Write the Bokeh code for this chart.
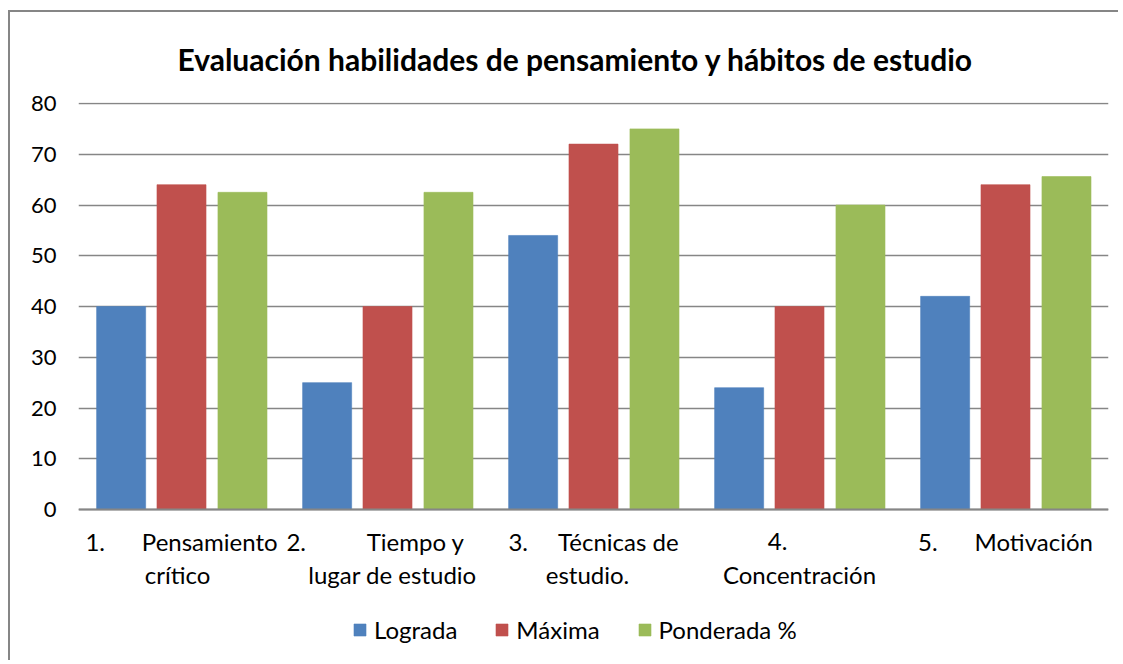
from bokeh.plotting import figure
from bokeh.models import ColumnDataSource, FactorRange, Range1d, Legend, LegendItem, FixedTicker, Span
from bokeh.core.properties import value
from bokeh.transform import dodge
from bokeh.embed import file_html
from bokeh.resources import INLINE

# ---- data ----
categories = [
    "1. Pensamiento crítico",
    "2. Tiempo y lugar de estudio",
    "3. Técnicas de estudio.",
    "4. Concentración",
    "5. Motivación",
]
NB = "\u00a0"
label_line1 = ["1." + NB * 6 + "Pensamiento", "2." + NB * 10 + "Tiempo y",
               "3." + NB * 5 + "Técnicas de", "4.", "5." + NB * 6 + "Motivación"]
label_line2 = ["crítico", "lugar de estudio", "estudio.", "Concentración", ""]
lograda = [40, 25, 54, 24, 42]
maxima = [64, 40, 72, 40, 64]
ponderada = [62.5, 62.5, 75, 60, 65.6]
series_names = ["Lograda", "Máxima", "Ponderada %"]
y_ticks = [0, 10, 20, 30, 40, 50, 60, 70, 80]
title_text = "Evaluación habilidades de pensamiento y hábitos de estudio"

colors = ["#4F81BD", "#C0504D", "#9BBB59"]
FONT = "Lato"
GRID = "#868686"

source = ColumnDataSource(dict(cat=categories, lograda=lograda, maxima=maxima, ponderada=ponderada))
lab_src = ColumnDataSource(dict(cat=categories, l1=label_line1, l2=label_line2,
                                dx1=[0, -12, 0, -22, 0], dx2=[-4, 5, -6, 0, 0]))

p = figure(
    width=1110, height=650,
    x_range=FactorRange(*categories), y_range=Range1d(-29.36, 80.2),
    output_backend="svg", toolbar_location=None,
    min_border_left=68, min_border_right=12, min_border_top=90, min_border_bottom=4,
)
p.styles = {"margin-left": "8px", "margin-top": "10px",
            "border-left": "2px solid #868686", "border-top": "2px solid #868686"}

p.title.text = title_text
p.title.text_font = FONT
p.title.text_font_size = "30px"
p.title.text_font_style = "bold"
p.title.align = "left"
p.title.offset = 99
p.title.text_color = "#000000"
p.title.standoff = 52

p.outline_line_color = None
p.background_fill_color = "white"
p.border_fill_color = "white"

offsets = [-0.293, 0.0, 0.296]
fields = ["lograda", "maxima", "ponderada"]
renderers = []
for f, off, c in zip(fields, offsets, colors):
    r = p.vbar(x=dodge("cat", off, range=p.x_range), top=f, width=0.238, source=source,
               fill_color=c, line_color=c, line_alpha=0.6, line_width=1)
    renderers.append(r)

p.xgrid.grid_line_color = None
p.ygrid.grid_line_color = GRID
p.ygrid.grid_line_width = 1.6
p.yaxis.ticker = FixedTicker(ticks=y_ticks)

p.yaxis.axis_line_color = None
p.yaxis.major_tick_line_color = None
p.yaxis.minor_tick_line_color = None
p.yaxis.major_label_text_font = FONT
p.yaxis.major_label_text_font_size = "22px"
p.yaxis.major_label_text_color = "#000000"
p.yaxis.major_label_standoff = 16

p.xaxis.visible = False
p.add_layout(Span(location=0, dimension="width", line_color=GRID, line_width=2))

# category labels (two lines)
p.text(x="cat", y=-6.3, text="l1", x_offset="dx1", source=lab_src,
       text_align="center", text_baseline="middle",
       text_font=value(FONT), text_font_size="24px", text_color="#000000")
p.text(x="cat", y=-12.8, text="l2", x_offset="dx2", source=lab_src,
       text_align="center", text_baseline="middle",
       text_font=value(FONT), text_font_size="24px", text_color="#000000")

legend = Legend(
    items=[LegendItem(label=n, renderers=[r]) for n, r in zip(series_names, renderers)],
    orientation="horizontal", location=(274, 14),
    label_text_font=FONT, label_text_font_size="24px", label_text_color="#000000",
    glyph_width=15, glyph_height=15, label_standoff=7, spacing=37,
    border_line_color=None, background_fill_alpha=0, margin=0, padding=0,
)
p.add_layout(legend, "center")

open("out.html", "w").write(file_html(p, INLINE))
